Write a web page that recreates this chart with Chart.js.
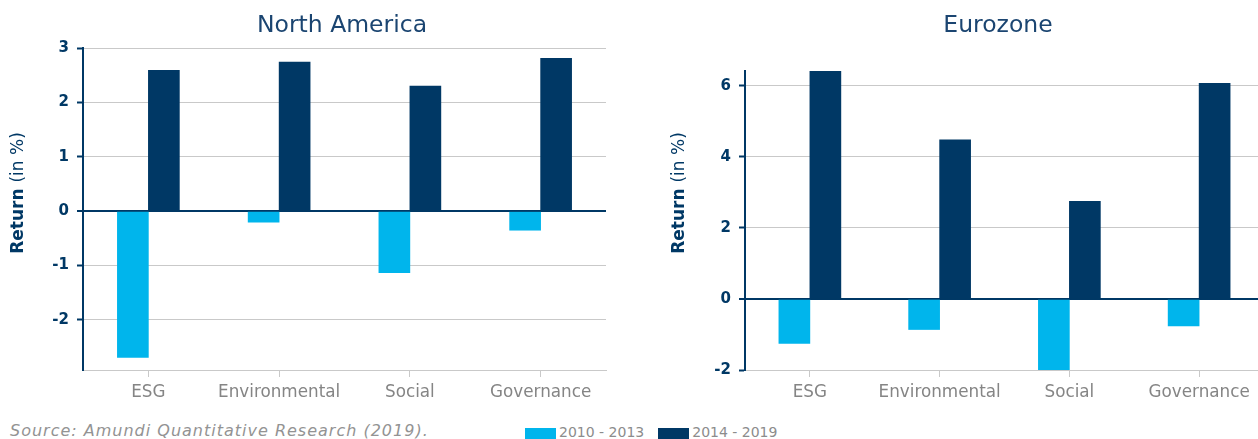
<!DOCTYPE html>
<html>
<head>
<meta charset="utf-8">
<script src="https://cdn.jsdelivr.net/npm/chart.js@4/dist/chart.umd.min.js"></script>
<style>
  html, body { margin: 0; padding: 0; background: #fff; }
  body { width: 1258px; height: 439px; position: relative; overflow: hidden; font-family: "DejaVu Sans", sans-serif; }
  canvas { position: absolute; top: 0; }
  #cNA { left: 0; }
  #cEZ { left: 630px; }
  .source { position: absolute; left: 10px; top: 421px; font-size: 16px; letter-spacing: 1px; font-style: italic; color: #939393; white-space: nowrap; }
  .legend { position: absolute; left: 525px; top: 424px; font-size: 14px; color: #8c8c8c; white-space: nowrap; }
  .legend span.sw { display: inline-block; width: 31px; height: 12px; vertical-align: -3px; margin-right: 3px; }
  .legend span.lb { margin-right: 14px; }
</style>
</head>
<body>
<canvas id="cNA" width="630" height="410"></canvas>
<canvas id="cEZ" width="634" height="410"></canvas>
<div class="source">Source: Amundi Quantitative Research (2019).</div>
<div class="legend"><span class="sw" style="background:#00b5ec"></span><span class="lb">2010 - 2013</span><span class="sw" style="background:#003865"></span><span class="lb">2014 - 2019</span></div>
<script>
// données
const categories = ['ESG', 'Environmental', 'Social', 'Governance'];
const seriesNames = ['2010 - 2013', '2014 - 2019'];
const naEarly = [-2.69, -0.20, -1.13, -0.35];
const naLate  = [2.59, 2.74, 2.30, 2.81];
const ezEarly = [-1.25, -0.86, -2.04, -0.76];
const ezLate  = [6.41, 4.48, 2.75, 6.07];
const naTicks = [-2, -1, 0, 1, 2, 3];
const ezTicks = [-2, 0, 2, 4, 6];

const NAVY = '#003865';
const CYAN = '#00b5ec';
const GRID = '#c9c9c9';
const FONT = '"DejaVu Sans", sans-serif';

/** titre du panneau + titre de l'axe Y (Return gras, (in %) normal) */
const panelText = {
  id: 'panelText',
  afterDraw(chart, args, opts) {
    const ctx = chart.ctx;
    ctx.save();
    ctx.fillStyle = '#1b4571';
    ctx.font = '23.5px ' + FONT;
    ctx.textAlign = 'center';
    ctx.textBaseline = 'alphabetic';
    ctx.fillText(opts.title, opts.titleX, 32);

    ctx.translate(opts.yTitleX, 193);
    ctx.rotate(-Math.PI / 2);
    ctx.fillStyle = NAVY;
    ctx.textAlign = 'left';
    ctx.textBaseline = 'middle';
    const boldFont = 'bold 17px ' + FONT, normFont = '17px ' + FONT;
    ctx.font = boldFont;
    const w1 = ctx.measureText('Return ').width;
    ctx.font = normFont;
    const w2 = ctx.measureText('(in %)').width;
    const x0 = -(w1 + w2) / 2;
    ctx.font = boldFont;
    ctx.fillText('Return ', x0, 0);
    ctx.font = normFont;
    ctx.fillText('(in %)', x0 + w1, 0);
    ctx.restore();
  }
};

function makeChart(canvasId, early, late, yMin, yMax, ticks, axisWidth, padTop, padRight, title, titleX, yTitleX) {
  return new Chart(document.getElementById(canvasId), {
    type: 'bar',
    data: {
      labels: categories,
      datasets: [
        { label: seriesNames[0], data: early, backgroundColor: CYAN, barThickness: 31 },
        { label: seriesNames[1], data: late, backgroundColor: NAVY, barThickness: 31 }
      ]
    },
    plugins: [panelText],
    options: {
      responsive: false,
      animation: false,
      layout: { padding: { top: padTop, right: padRight, left: 0, bottom: 0 } },
      plugins: {
        legend: { display: false },
        tooltip: { enabled: false },
        panelText: { title, titleX, yTitleX }
      },
      scales: {
        x: {
          afterFit: s => { s.height = 40; },
          border: { color: GRID, width: 1 },
          grid: { offset: false, drawOnChartArea: false, drawTicks: true, tickLength: 7, tickColor: GRID },
          ticks: { color: '#858585', font: { family: FONT, size: 16.8 }, padding: 6, maxRotation: 0 }
        },
        y: {
          min: yMin, max: yMax,
          afterFit: s => { s.width = axisWidth; },
          afterBuildTicks: s => { s.ticks = ticks.map(v => ({ value: v })); },
          border: { color: NAVY, width: 2 },
          grid: {
            color: c => (c.tick && c.tick.value === 0 ? NAVY : GRID),
            lineWidth: c => (c.tick && c.tick.value === 0 ? 2 : 1),
            tickColor: NAVY, tickLength: 6, tickWidth: 2
          },
          ticks: { color: NAVY, font: { family: FONT, size: 15, weight: 'bold' }, padding: 8 }
        }
      }
    }
  });
}

makeChart('cNA', naEarly, naLate, -2.92, 3, naTicks, 83, 48, 24, 'North America', 342, 19);
makeChart('cEZ', ezEarly, ezLate, -2, 6.42, ezTicks, 115, 71, 0, 'Eurozone', 368, 50);
</script>
</body>
</html>
